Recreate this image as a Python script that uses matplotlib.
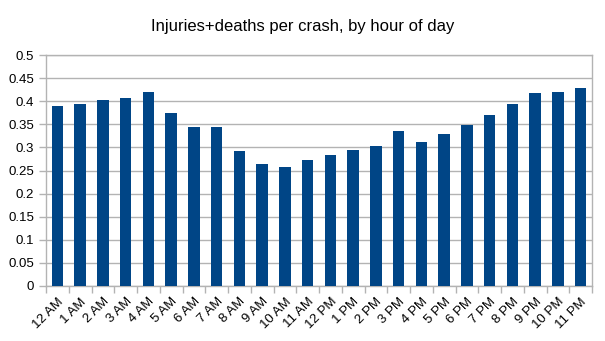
import matplotlib
matplotlib.use("Agg")
import matplotlib.pyplot as plt
import numpy as np

plt.rcParams['font.family'] = ['Liberation Sans', 'DejaVu Sans']

hours = ["12 AM", "1 AM", "2 AM", "3 AM", "4 AM", "5 AM", "6 AM", "7 AM",
         "8 AM", "9 AM", "10 AM", "11 AM", "12 PM", "1 PM", "2 PM", "3 PM",
         "4 PM", "5 PM", "6 PM", "7 PM", "8 PM", "9 PM", "10 PM", "11 PM"]
rate = [0.389, 0.393, 0.403, 0.408, 0.419, 0.374, 0.344, 0.344,
        0.292, 0.263, 0.258, 0.273, 0.283, 0.294, 0.303, 0.336,
        0.311, 0.328, 0.348, 0.370, 0.395, 0.418, 0.419, 0.429]
yticks = [0, 0.05, 0.1, 0.15, 0.2, 0.25, 0.3, 0.35, 0.4, 0.45, 0.5]
ytick_labels = ["0", "0.05", "0.1", "0.15", "0.2", "0.25", "0.3", "0.35", "0.4", "0.45", "0.5"]

fig = plt.figure(figsize=(6.05, 3.41), dpi=100)
ax = fig.add_axes([46 / 605, 1 - 286 / 341, (592 - 46) / 605, (286 - 55) / 341])

grid_c = "#b3b3b3"
x = np.arange(len(hours))
ax.bar(x, rate, width=0.5, color="#004586", zorder=3)

ax.set_xlim(-0.5, len(hours) - 0.5)
ax.set_ylim(0, 0.5)
ax.set_yticks(yticks)
ax.set_yticklabels(ytick_labels, fontsize=9.5)
ax.yaxis.grid(True, color=grid_c, linewidth=1, zorder=0)

# category labels centred on bars, tick marks at category boundaries
ax.set_xticks(x)
ax.set_xticklabels(hours, rotation=45, ha="right", rotation_mode="anchor", fontsize=9.5)
ax.tick_params(axis="x", length=0, pad=7)
ax.set_xticks(np.arange(-0.5, len(hours)), minor=True)
ax.tick_params(axis="x", which="minor", length=5, color=grid_c, width=1)
ax.tick_params(axis="y", length=5, color=grid_c, width=1, pad=3.5)

for s in ax.spines.values():
    s.set_color(grid_c)
    s.set_linewidth(1)

fig.text(0.5, 1 - 27 / 341, "Injuries+deaths per crash, by hour of day",
         ha="center", va="center", fontsize=12)

fig.savefig("out.png", dpi=100)
